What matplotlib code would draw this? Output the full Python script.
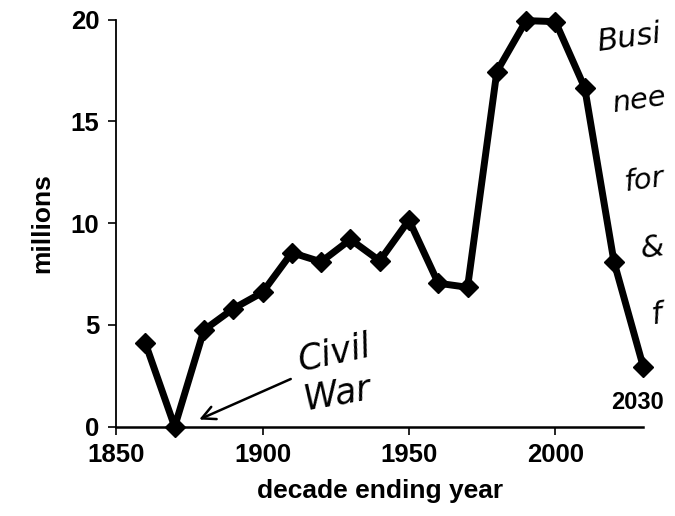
import numpy as np
import matplotlib.pyplot as plt

years = [1860, 1870, 1880, 1890, 1900, 1910, 1920, 1930, 1940,
         1950, 1960, 1970, 1980, 1990, 2000, 2010, 2020, 2030]
millions = [4.1, 0.0, 4.75, 5.8, 6.6, 8.55, 8.1, 9.2, 8.15,
            10.15, 7.05, 6.85, 17.45, 19.95, 19.9, 16.65, 8.1, 2.95]
x_ticks = [1850, 1900, 1950, 2000]
y_ticks = [0, 5, 10, 15, 20]
note_lines = ["Busi", "nee", "for", "&", "f"]

plt.rcParams['font.family'] = ['Liberation Sans', 'DejaVu Sans']

fig = plt.figure(figsize=(6.75, 5.16), dpi=100)
ax = fig.add_axes([0.172, 0.173, 0.781, 0.789])

ax.plot(years, millions, color='black', lw=5, marker='D', ms=10,
        clip_on=False, zorder=5)

ax.set_xlim(1850, 2030)
ax.set_ylim(0, 20)
ax.set_xticks(x_ticks)
ax.set_yticks(y_ticks)
ax.tick_params(labelsize=18.5, width=1.2, length=6, direction='out', pad=6)
for lab in ax.get_xticklabels() + ax.get_yticklabels():
    lab.set_fontweight('bold')
ax.spines['top'].set_visible(False)
ax.spines['right'].set_visible(False)
ax.spines['left'].set_linewidth(1.3)
ax.spines['bottom'].set_linewidth(1.8)

ax.set_xlabel("decade ending year", fontsize=19, fontweight='bold', labelpad=8)
ax.set_ylabel("millions", fontsize=19, fontweight='bold', labelpad=12)

ax.text(years[-1] - 2, millions[-1] - 1.2, str(years[-1]), ha='center', va='top',
        fontsize=17, fontweight='bold')

# handwritten notes
hand = dict(family='DejaVu Sans', style='italic', fontweight='light', color='black')
ax.text(1911, 3.6, "Civil", fontsize=25, rotation=12, ha='left', va='center', **hand)
ax.text(1913, 1.6, "War", fontsize=25, rotation=10, ha='left', va='center', **hand)
ax.annotate("", xy=(1877.5, 0.3), xytext=(1910.5, 2.4),
            arrowprops=dict(arrowstyle='->', lw=1.8, color='black',
                            mutation_scale=24))

note_x = [0.882, 0.905, 0.922, 0.946, 0.962]
note_y = [0.926, 0.806, 0.651, 0.519, 0.39]
note_size = [22, 21, 21, 22, 22]
for line, nx, ny, fs in zip(note_lines, note_x, note_y, note_size):
    fig.text(nx, ny, line, fontsize=fs, rotation=8,
             ha='left', va='center', **hand)

fig.savefig("out.png", dpi=100)
